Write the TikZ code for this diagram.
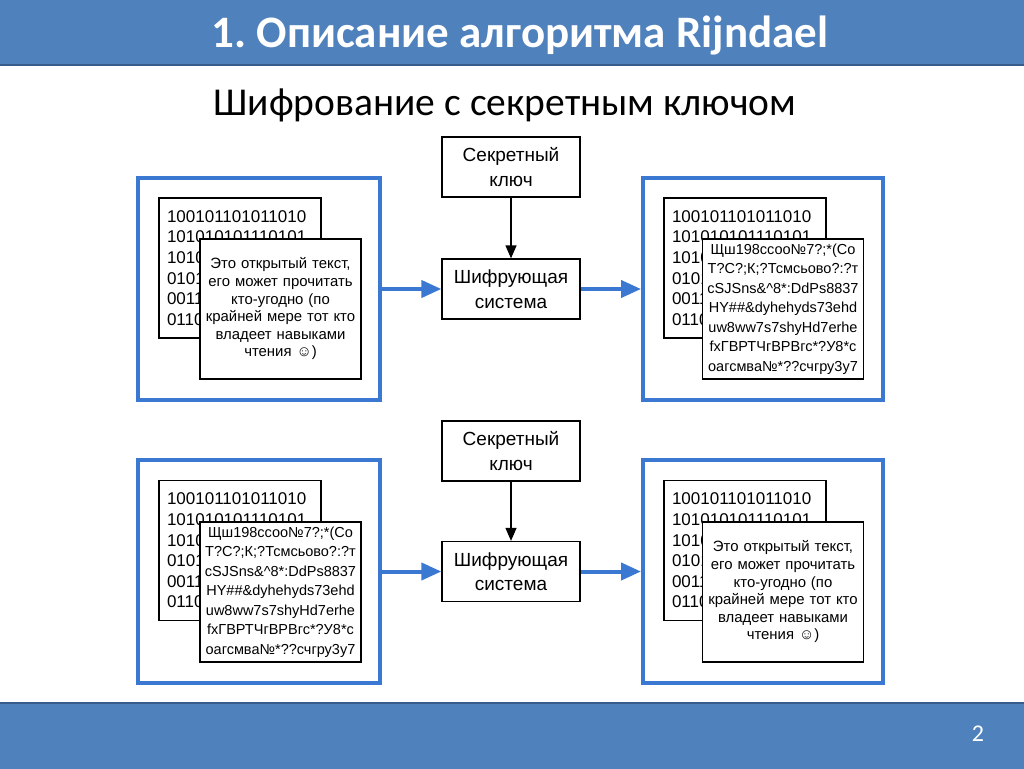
\documentclass[tikz,border=0pt]{standalone}
\usepackage{fontspec}
\setmainfont{Liberation Sans}
\newfontfamily\calibri{Carlito}
\usetikzlibrary{arrows.meta}
\frenchspacing
\definecolor{barblue}{RGB}{79,129,189}
\definecolor{bardark}{RGB}{56,93,138}
\definecolor{lineblue}{RGB}{58,120,210}
\tikzset{
  frame/.style={draw=lineblue, line width=4pt, fill=white, minimum width=242pt, minimum height=222pt, inner sep=0pt},
  backdoc/.style={draw=black, line width=1.3pt, fill=white, minimum width=162pt, minimum height=140pt, inner sep=0pt,
     text width=146pt, align=left, font=\fontsize{17}{20.6}\selectfont},
  frontdoc/.style={draw=black, line width=1.3pt, fill=white, minimum width=161pt, minimum height=140pt, inner sep=0pt,
     text width=158pt, align=center},
  plain/.style={font=\fontsize{14.9}{17.6}\selectfont},
  cipher/.style={font=\fontsize{14.5}{19.5}\selectfont},
  procbox/.style={draw=black, line width=1.3pt, fill=white, minimum width=138pt, minimum height=60pt, inner sep=0pt,
     align=center, font=\fontsize{19}{24.5}\selectfont},
  bluearrow/.style={draw=lineblue, line width=4pt, -{Triangle[length=20pt,width=17pt]}},
  blackarrow/.style={draw=black, line width=1.3pt, -{Triangle[length=13pt,width=11pt]}},
  bar/.style={fill=barblue, draw=bardark, line width=1.5pt}
}
\newcommand{\bintext}{100101101011010\\101010101110101\\1010\\0101\\0011\\0110}
\newcommand{\plaintxt}{Это открытый текст,\\его может прочитать\\кто-угодно (по\\крайней мере тот кто\\владеет навыками\\чтения ☺)}
\newcommand{\ciphtxt}{Щш198ссоо№7?;*(Со\\Т?С?;К;?Тсмсьово?:?т\\cSJSns\&\^{}8*:DdPs8837\\HY\#\#\&dyhehyds73ehd\\uw8ww7s7shyHd7erhe\\fxГВРТЧгВРВгс*?У8*с\\оагсмва№*??счгру3у7}
\begin{document}
\begin{tikzpicture}[x=1pt,y=-1pt]
\useasboundingbox[fill=white] (0,0) rectangle (1024,768);
% bars
\path[bar] (-2,-2) rectangle (1026,65);
\path[bar] (-2,703) rectangle (1026,770);
\node[text=white, font=\calibri\bfseries\fontsize{45}{52}\selectfont] (title) at (520,36) {1. Описание алгоритма Rijndael};
\node[text=black, font=\calibri\fontsize{39.5}{46}\selectfont] (subtitle) at (505,105) {Шифрование с секретным ключом};
\node[text=white, font=\calibri\fontsize{24}{28}\selectfont] (page) at (978,734) {2};

% ---- top row
\node[frame] (lf1) at (259,289) {};
\node[frame, minimum width=240pt] (rf1) at (763,289) {};
\node[backdoc] (lb1) at (240,268) {\bintext};
\node[frontdoc, plain] (lp1) at (280.5,309) {\plaintxt};
\node[backdoc] (rb1) at (745,268) {\bintext};
\node[frontdoc, cipher] (rc1) at (783,309) {\ciphtxt};
\node[procbox] (key1) at (511,167) {Секретный\\ключ};
\node[procbox] (sys1) at (511,289) {Шифрующая\\система};
\draw[blackarrow] (key1) -- (sys1);
\draw[bluearrow] (lf1.east) -- (sys1.west);
\draw[bluearrow] (sys1.east) -- (rf1.west);

% ---- bottom row
\node[frame, minimum height=223pt] (lf2) at (259,571.5) {};
\node[frame, minimum width=240pt, minimum height=223pt] (rf2) at (763,571.5) {};
\node[backdoc] (lb2) at (240,550.5) {\bintext};
\node[frontdoc, cipher] (lc2) at (280.5,592) {\ciphtxt};
\node[backdoc] (rb2) at (745,550.5) {\bintext};
\node[frontdoc, plain] (rp2) at (783,592) {\plaintxt};
\node[procbox] (key2) at (511,451) {Секретный\\ключ};
\node[procbox] (sys2) at (511,571.5) {Шифрующая\\система};
\draw[blackarrow] (key2) -- (sys2);
\draw[bluearrow] (lf2.east) -- (sys2.west);
\draw[bluearrow] (sys2.east) -- (rf2.west);
\end{tikzpicture}
\end{document}
